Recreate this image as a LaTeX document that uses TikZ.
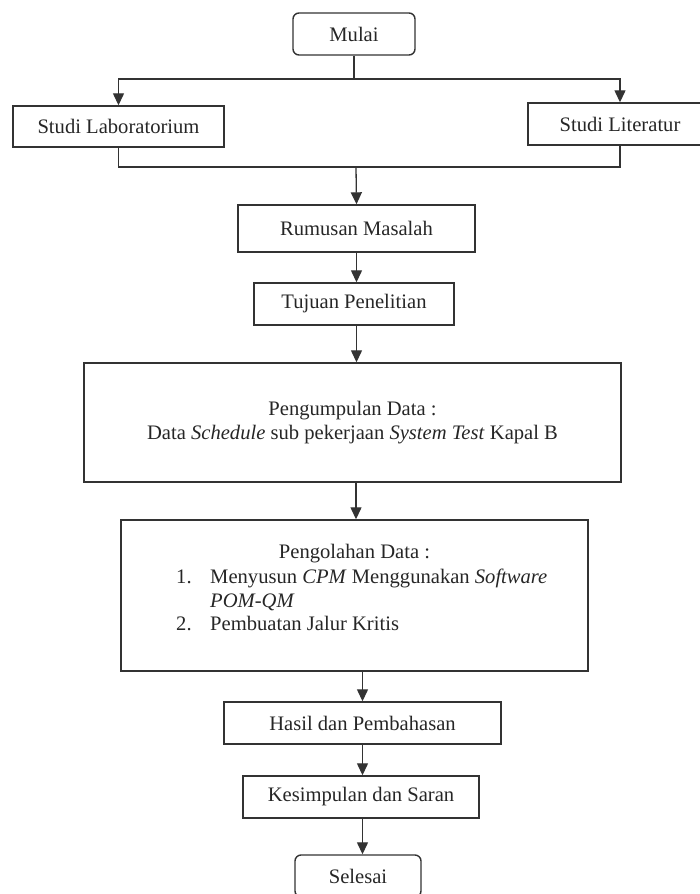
\documentclass[tikz,border=0pt]{standalone}
\usepackage{fontspec}
\setmainfont{Liberation Serif}
\usetikzlibrary{arrows.meta}
\begin{document}
\begin{tikzpicture}[x=1pt,y=-1pt,
  every node/.style={font=\fontsize{20.6}{24}\selectfont, text=black!85},
  box/.style={draw=black!80, line width=1.4pt, inner sep=0pt, align=center},
  term/.style={box, rounded corners=6pt},
  txt/.style={inner sep=0pt},
  conn/.style={draw=black!80, line width=1.3pt},
  arr/.style={conn, -{Triangle[width=11pt,length=12pt]}}]
\useasboundingbox (0,0) rectangle (700,894);

\node[term, minimum width=122pt, minimum height=42pt] (mulai) at (354,34) {Mulai};
\node[box, minimum width=211pt, minimum height=41pt] (lab) at (118.5,126.5) {Studi Laboratorium};
\node[box, minimum width=184pt, minimum height=42pt] (lit) at (620,124) {Studi Literatur};
\node[box, minimum width=237pt, minimum height=47pt] (rumusan) at (356.5,228.5) {Rumusan Masalah};
\node[box, minimum width=200pt, minimum height=42pt] (tujuan) at (354,304) {Tujuan Penelitian};
\node[box, minimum width=537pt, minimum height=119pt] (kumpul) at (352.5,422.5)
  {Pengumpulan Data :\\Data \textit{Schedule} sub pekerjaan \textit{System Test} Kapal B};
\node[box, minimum width=467pt, minimum height=151pt] (olah) at (354.5,595.5) {};
\node[txt, anchor=base] (olahT) at (354.5,558) {Pengolahan Data :};
\node[txt, anchor=base west] (n1) at (176,583) {1.};
\node[txt, anchor=base west] (i1) at (210,583) {Menyusun \textit{CPM} Menggunakan \textit{Software}};
\node[txt, anchor=base west] (i1b) at (210,607) {\textit{POM-QM}};
\node[txt, anchor=base west] (n2) at (176,630) {2.};
\node[txt, anchor=base west] (i2) at (210,630) {Pembuatan Jalur Kritis};
\node[box, minimum width=277pt, minimum height=42pt] (hasil) at (362.5,723) {Hasil dan Pembahasan};
\node[box, minimum width=236pt, minimum height=42pt] (simpul) at (361,797) {Kesimpulan dan Saran};
\node[term, minimum width=126pt, minimum height=42pt] (selesai) at (358,876) {Selesai};

\coordinate (split) at (354,79);
\coordinate (join) at (356,167);

\draw[conn] (mulai.south) -- (split);
\draw[arr] (split) -| (lab.north);
\draw[arr] (split) -| (lit.north);
\draw[conn] (lab.south) |- (join);
\draw[conn] (lit.south) |- (join);
\draw[arr] (join) -- (rumusan.north);
\draw[arr] (rumusan.south) -- (rumusan.south |- tujuan.north);
\draw[arr] (tujuan.south -| rumusan.south) -- (rumusan.south |- kumpul.north);
\draw[arr] (kumpul.south -| join) -- (join |- olah.north);
\draw[arr] (hasil.north |- olah.south) -- (hasil.north);
\draw[arr] (hasil.south) -- (hasil.south |- simpul.north);
\draw[arr] (simpul.south -| hasil.south) -- (hasil.south |- selesai.north);
\end{tikzpicture}
\end{document}
